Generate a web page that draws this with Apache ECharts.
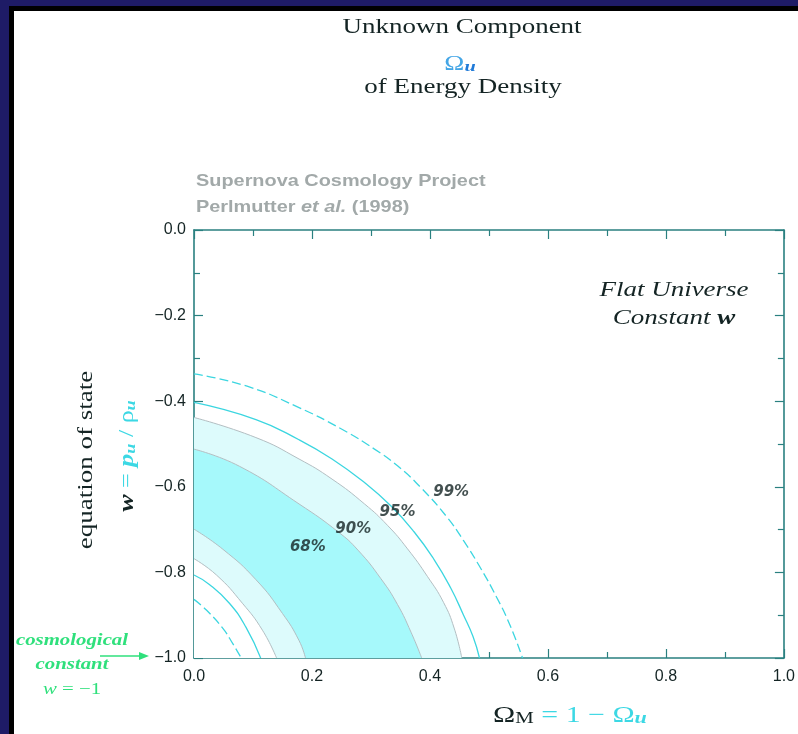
<!DOCTYPE html>
<html>
<head>
<meta charset="utf-8">
<script src="https://cdn.jsdelivr.net/npm/echarts@6/dist/echarts.min.js"></script>
<style>html,body{margin:0;padding:0;background:#1e1b66;}#c{width:798px;height:734px;}</style>
</head>
<body>
<div id="c"></div>
<script>
// ---- data ----
const xTickLabels = ['0.0', '0.2', '0.4', '0.6', '0.8', '1.0'];
const yTickLabels = ['\u22121.0', '\u22120.8', '\u22120.6', '\u22120.4', '\u22120.2', '0.0'];

const c99Outer = [[0,-0.336],[0.090,-0.365],[0.178,-0.415],[0.250,-0.465],[0.306,-0.512],[0.345,-0.551],[0.384,-0.601],[0.429,-0.671],[0.457,-0.726],[0.485,-0.788],[0.513,-0.858],[0.535,-0.921],[0.557,-1.0]];
const c95Outer = [[0,-0.403],[0.105,-0.443],[0.178,-0.490],[0.234,-0.535],[0.289,-0.590],[0.334,-0.645],[0.373,-0.705],[0.407,-0.770],[0.435,-0.836],[0.457,-0.900],[0.473,-0.950],[0.484,-1.0]];
const c90Outer = [[0,-0.438],[0.105,-0.485],[0.178,-0.535],[0.234,-0.582],[0.289,-0.640],[0.328,-0.690],[0.362,-0.745],[0.396,-0.810],[0.423,-0.870],[0.441,-0.930],[0.454,-1.0]];
const c68Outer = [[0,-0.512],[0.077,-0.552],[0.178,-0.640],[0.245,-0.706],[0.278,-0.748],[0.317,-0.815],[0.345,-0.875],[0.368,-0.940],[0.386,-1.0]];
const c68Inner = [[0,-0.699],[0.049,-0.746],[0.105,-0.817],[0.150,-0.896],[0.178,-0.959],[0.189,-1.0]];
const c90Inner = [[0,-0.768],[0.038,-0.806],[0.082,-0.872],[0.116,-0.935],[0.140,-1.0]];
const c95Inner = [[0,-0.806],[0.026,-0.828],[0.060,-0.872],[0.088,-0.928],[0.113,-1.0]];
const c99Inner = [[0,-0.863],[0.021,-0.888],[0.049,-0.931],[0.066,-0.967],[0.080,-1.0]];

const pctNames = ['68%', '90%', '95%', '99%'];
const pctX = [0.193, 0.270, 0.345, 0.436];
const pctY = [-0.742, -0.700, -0.660, -0.613];

// ---- styles ----
const axisColor = '#2a8080';
const cyanLine = '#3cd6e0';
const cyanFill = '#a6f9fb';
const lightFill = '#ddfbfc';
const edgeGray = '#b3bec2';
const darkText = '#142424';
const formulaCyan = '#3cd8e4';
const green = '#2fe07c';

const chart = echarts.init(document.getElementById('c'), null, {renderer: 'canvas'});

function areaSeries(data, fill, lineColor) {
  return {
    type: 'line', data: data, smooth: 0.5, symbol: 'none', silent: true,
    lineStyle: {color: lineColor, width: 1},
    areaStyle: {color: fill, opacity: 1, origin: 'start'}
  };
}
function lineSeries(data, dashed) {
  return {
    type: 'line', data: data, smooth: 0.5, symbol: 'none', silent: true,
    lineStyle: {color: cyanLine, width: 1.3, type: dashed ? [9, 4] : 'solid'}
  };
}

const tickStyle = {color: axisColor, width: 1.2};
const tickFont = {fontFamily: 'Liberation Sans', fontSize: 16, color: darkText};
function xAx(pos, labels) {
  return {
    type: 'value', min: 0, max: 1, interval: 0.2, position: pos,
    axisLine: {show: true, onZero: false, lineStyle: {color: axisColor, width: 1.6}},
    axisTick: {show: true, inside: true, length: 9, lineStyle: tickStyle},
    minorTick: {show: true, splitNumber: 2, length: 6, lineStyle: tickStyle},
    splitLine: {show: false},
    axisLabel: Object.assign({
      show: labels, margin: 11,
      formatter: v => xTickLabels[Math.round(v / 0.2)]
    }, tickFont)
  };
}
function yAx(pos, labels) {
  return {
    type: 'value', min: -1, max: 0, interval: 0.2, position: pos,
    axisLine: {show: true, onZero: false, lineStyle: {color: axisColor, width: 1.6}},
    axisTick: {show: true, inside: true, length: 9, lineStyle: tickStyle},
    minorTick: {show: true, splitNumber: 2, length: 6, lineStyle: tickStyle},
    splitLine: {show: false},
    axisLabel: Object.assign({
      show: labels, margin: 8,
      formatter: v => yTickLabels[Math.round((v + 1) / 0.2)]
    }, tickFont)
  };
}

function txt(x, y, text, opts) {
  const o = opts || {};
  return {
    type: 'text', x: x, y: y, z: 100,
    scaleX: o.scaleX || 1, scaleY: o.scaleY || 1, rotation: o.rotation || 0,
    style: {
      text: text,
      fontFamily: o.fontFamily || 'Liberation Serif',
      fontSize: o.fontSize || 20,
      fontStyle: o.fontStyle || 'normal',
      fontWeight: o.fontWeight || 'normal',
      fill: o.fill || darkText,
      align: o.align || 'center', textAlign: o.align || 'center',
      verticalAlign: 'middle', textVerticalAlign: 'middle',
      rich: o.rich
    }
  };
}

const serif = 'Liberation Serif';
const SX = 1.35;

const graphics = [
  {type: 'rect', z: -10, shape: {x: 9, y: 6, width: 800, height: 740}, style: {fill: '#000000'}},
  {type: 'rect', z: -9, shape: {x: 14, y: 11, width: 800, height: 740}, style: {fill: '#ffffff'}},
  // title
  txt(462, 28, 'Unknown Component', {scaleX: SX}),
  txt(460, 63, '{o|\u03A9}{u|u}', {scaleX: SX, rich: {
    o: {fontFamily: serif, fontSize: 20, fill: '#44a6e6', verticalAlign: 'bottom', lineHeight: 24},
    u: {fontFamily: serif, fontSize: 15, fontStyle: 'italic', fontWeight: 'bold', fill: '#1f7ad8', verticalAlign: 'bottom', lineHeight: 15, padding: [8, 0, 0, 0]}
  }}),
  txt(463, 88, 'of Energy Density', {scaleX: SX}),
  // credit
  txt(196, 181, 'Supernova Cosmology Project', {align: 'left', fontFamily: 'Liberation Sans', fontWeight: 'bold', fontSize: 17, fill: '#a2a9a9', scaleX: 1.17}),
  txt(196, 207, '{n|Perlmutter }{i|et al.}{n| (1998)}', {align: 'left', scaleX: 1.17, rich: {
    n: {fontFamily: 'Liberation Sans', fontWeight: 'bold', fontSize: 17, fill: '#a2a9a9'},
    i: {fontFamily: 'Liberation Sans', fontWeight: 'bold', fontStyle: 'italic', fontSize: 17, fill: '#a2a9a9'}
  }}),
  // flat universe note
  txt(674, 291, 'Flat Universe', {fontStyle: 'italic', scaleX: SX}),
  txt(674, 319, '{a|Constant }{b|w}', {scaleX: SX, rich: {
    a: {fontFamily: serif, fontStyle: 'italic', fontSize: 20, fill: darkText},
    b: {fontFamily: serif, fontStyle: 'italic', fontWeight: 'bold', fontSize: 20, fill: darkText}
  }}),
  // y axis title
  txt(87, 460, 'equation of state', {rotation: Math.PI / 2, scaleX: SX}),
  txt(126, 456, '{w|w}{c| = }{p|p}{s|u}{c| / \u03C1}{s|u}', {rotation: Math.PI / 2, scaleX: 1.3, rich: {
    w: {fontFamily: serif, fontStyle: 'italic', fontWeight: 'bold', fontSize: 20, fill: darkText, verticalAlign: 'bottom', lineHeight: 24},
    c: {fontFamily: serif, fontSize: 20, fill: formulaCyan, verticalAlign: 'bottom', lineHeight: 24},
    p: {fontFamily: serif, fontStyle: 'italic', fontWeight: 'bold', fontSize: 20, fill: formulaCyan, verticalAlign: 'bottom', lineHeight: 24},
    s: {fontFamily: serif, fontStyle: 'italic', fontWeight: 'bold', fontSize: 14, fill: formulaCyan, verticalAlign: 'bottom', lineHeight: 14, padding: [9, 0, 0, 0]}
  }}),
  // x axis title
  txt(570, 714, '{o|\u03A9}{m|M}{c| = 1 \u2212 \u03A9}{u|u}', {scaleX: 1.3, rich: {
    o: {fontFamily: serif, fontSize: 23, fill: darkText, verticalAlign: 'bottom', lineHeight: 26},
    m: {fontFamily: serif, fontSize: 16, fill: darkText, verticalAlign: 'bottom', lineHeight: 16, padding: [8, 0, 0, 0]},
    c: {fontFamily: serif, fontSize: 23, fill: formulaCyan, verticalAlign: 'bottom', lineHeight: 26},
    u: {fontFamily: serif, fontStyle: 'italic', fontWeight: 'bold', fontSize: 17, fill: formulaCyan, verticalAlign: 'bottom', lineHeight: 17, padding: [7, 0, 0, 0]}
  }}),
  // cosmological constant note
  txt(72, 641, 'cosmological', {fontStyle: 'italic', fontWeight: 'bold', fontSize: 16, fill: green, scaleX: 1.3}),
  txt(72, 665, 'constant', {fontStyle: 'italic', fontWeight: 'bold', fontSize: 16, fill: green, scaleX: 1.3}),
  txt(72, 690, '{i|w} = \u22121', {fontSize: 16, fill: green, scaleX: 1.3, rich: {
    i: {fontFamily: serif, fontStyle: 'italic', fontSize: 16, fill: green}
  }}),
  {type: 'line', z: 100, shape: {x1: 100, y1: 656, x2: 140, y2: 656}, style: {stroke: green, lineWidth: 1.5}},
  {type: 'polygon', z: 100, shape: {points: [[139, 652], [149, 656], [139, 660]]}, style: {fill: green}}
];

const option = {
  backgroundColor: '#1e1b66',
  animation: false,
  grid: {left: 194, right: 8, top: 230, bottom: 76, containLabel: false},
  xAxis: [xAx('bottom', true), xAx('top', false)],
  yAxis: [yAx('left', true), yAx('right', false)],
  graphic: graphics,
  series: [
    areaSeries(c90Outer, lightFill, edgeGray),
    areaSeries(c68Outer, cyanFill, edgeGray),
    areaSeries(c68Inner, lightFill, edgeGray),
    areaSeries(c90Inner, '#ffffff', edgeGray),
    lineSeries(c95Outer, false),
    lineSeries(c95Inner, false),
    lineSeries(c99Outer, true),
    lineSeries(c99Inner, true),
    {
      type: 'scatter', symbolSize: 0, silent: true, z: 10,
      data: pctNames.map((n, i) => ({name: n, value: [pctX[i], pctY[i]]})),
      label: {show: true, position: 'inside', formatter: p => p.name,
        fontFamily: 'DejaVu Sans', fontStyle: 'italic', fontWeight: 'bold', fontSize: 15, color: darkText}
    }
  ]
};
chart.setOption(option);
</script>
</body>
</html>
